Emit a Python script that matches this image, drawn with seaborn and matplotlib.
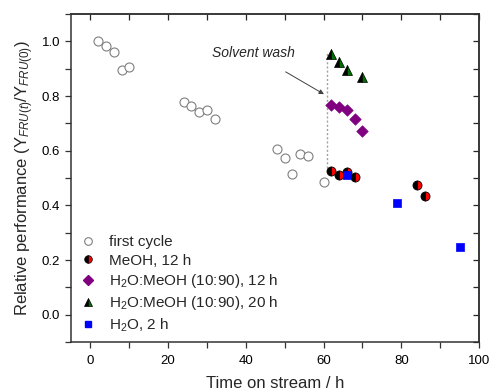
import matplotlib
matplotlib.use("Agg")
import matplotlib.pyplot as plt
from matplotlib.lines import Line2D
import seaborn as sns
import pandas as pd
import numpy as np

# ---- data ----
first_t = [2, 4, 6, 8, 10, 24, 26, 28, 30, 32, 48, 50, 52, 54, 56, 60]
first_y = [1.0, 0.982, 0.962, 0.896, 0.906, 0.777, 0.765, 0.742, 0.750, 0.716,
           0.607, 0.574, 0.514, 0.588, 0.579, 0.485]
meoh_t = [62, 64, 66, 68, 84, 86]
meoh_y = [0.524, 0.512, 0.523, 0.502, 0.475, 0.433]
mix12_t = [62, 64, 66, 68, 70]
mix12_y = [0.766, 0.760, 0.750, 0.717, 0.674]
mix20_t = [62, 64, 66, 70]
mix20_y = [0.955, 0.925, 0.895, 0.870]
h2o_t = [66, 79, 95]
h2o_y = [0.512, 0.409, 0.246]

labels = ["first cycle", "MeOH, 12 h", "H$_2$O:MeOH (10:90), 12 h",
          "H$_2$O:MeOH (10:90), 20 h", "H$_2$O, 2 h"]

sns.set_style("ticks")
plt.rcParams["font.family"] = ["Liberation Sans", "DejaVu Sans"]
plt.rcParams["mathtext.fontset"] = "custom"
plt.rcParams["mathtext.rm"] = "Liberation Sans"
plt.rcParams["mathtext.it"] = "Liberation Sans:italic"

fig = plt.figure(figsize=(4.91, 3.92), dpi=100)
ax = fig.add_axes([0.1446, 0.1276, 0.831, 0.8364])

df_first = pd.DataFrame({"t": first_t, "y": first_y})
df_mix12 = pd.DataFrame({"t": mix12_t, "y": mix12_y})
df_h2o = pd.DataFrame({"t": h2o_t, "y": h2o_y})

# dotted guide line at the solvent wash
ax.vlines(61, 0.538, 0.957, colors="#a0a0a0", linestyles=(0, (1.5, 1.5)), linewidth=1.0, zorder=1)

sns.scatterplot(data=df_first, x="t", y="y", ax=ax, marker="o", s=42,
                facecolor="white", edgecolor="#7f7f7f", linewidth=0.8, zorder=3)
ax.plot(meoh_t, meoh_y, linestyle="none", marker="o", markersize=6.5,
        fillstyle="left", markerfacecolor="black", markerfacecoloralt="red",
        markeredgecolor="black", markeredgewidth=0.6, zorder=3)
sns.scatterplot(data=df_mix12, x="t", y="y", ax=ax, marker="D", s=34,
                color="#800080", edgecolor="#800080", linewidth=0.5, zorder=3)
ax.plot(mix20_t, mix20_y, linestyle="none", marker="^", markersize=7.5,
        fillstyle="left", markerfacecolor="black", markerfacecoloralt="#007000",
        markeredgecolor="black", markeredgewidth=0.5, zorder=3)
sns.scatterplot(data=df_h2o, x="t", y="y", ax=ax, marker="s", s=34,
                color="#0000ff", edgecolor="#0000ff", linewidth=0.5, zorder=4)

ax.annotate("Solvent wash", xy=(60.1, 0.807), xytext=(42, 0.957),
            ha="center", va="center", fontsize=10, style="italic",
            arrowprops=dict(arrowstyle="-|>", color="#404040", lw=0.7,
                            mutation_scale=7, shrinkA=12, shrinkB=0))

ax.set_xlim(-5, 100)
ax.set_ylim(-0.1, 1.1)
ax.set_xticks(np.arange(0, 101, 20))
ax.set_xticks(np.arange(-0, 101, 10), minor=True)
ax.set_yticks(np.arange(0, 1.01, 0.2))
ax.set_yticks(np.arange(-0.1, 1.11, 0.1), minor=True)
ax.yaxis.set_major_formatter(matplotlib.ticker.FormatStrFormatter("%.1f"))
ax.tick_params(which="both", direction="out", length=4.3, width=0.9,
               labelsize=9.5, colors="#333333", labelcolor="black")
ax.tick_params(axis="x", which="major", pad=5)

sec_x = ax.secondary_xaxis("top")
sec_x.set_xticks(np.arange(0, 101, 20))
sec_x.set_xticks(np.arange(0, 101, 10), minor=True)
sec_x.tick_params(which="both", direction="in", length=4.3, width=0.9, labeltop=False)
sec_y = ax.secondary_yaxis("right")
sec_y.set_yticks(np.arange(0, 1.01, 0.2))
sec_y.set_yticks(np.arange(-0.1, 1.11, 0.1), minor=True)
sec_y.tick_params(which="both", direction="in", length=4.3, width=0.9, labelright=False)

for a in (ax, sec_x, sec_y):
    for sp in a.spines.values():
        sp.set_linewidth(1.1)
        sp.set_color("#333333")

ax.set_xlabel("Time on stream / h", fontsize=12, labelpad=6.5)
ax.set_ylabel(r"Relative performance (Y$_{\mathit{FRU(t)}}$/Y$_{\mathit{FRU(0)}}$)",
              fontsize=12, labelpad=4)

handles = [
    Line2D([], [], linestyle="none", marker="o", markersize=5.5, markerfacecolor="white",
           markeredgecolor="#7f7f7f", markeredgewidth=0.8),
    Line2D([], [], linestyle="none", marker="o", markersize=5.5, fillstyle="left",
           markerfacecolor="black", markerfacecoloralt="red", markeredgecolor="black",
           markeredgewidth=0.5),
    Line2D([], [], linestyle="none", marker="D", markersize=5, color="#800080"),
    Line2D([], [], linestyle="none", marker="^", markersize=6, fillstyle="left",
           markerfacecolor="black", markerfacecoloralt="#007000", markeredgecolor="black",
           markeredgewidth=0.5),
    Line2D([], [], linestyle="none", marker="s", markersize=5, color="#0000ff"),
]
ax.legend(handles, labels, loc="lower left", bbox_to_anchor=(-0.012, -0.008),
          frameon=False, fontsize=11, handletextpad=0.6, labelspacing=0.28,
          handlelength=1.5, borderaxespad=0.3)

fig.savefig("out.png", dpi=100)
